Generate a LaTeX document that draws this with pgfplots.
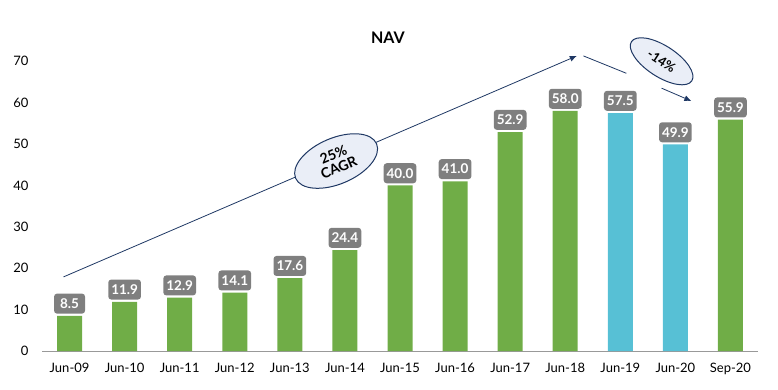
\documentclass[border=0pt]{standalone}
\usepackage{fontspec}
\setmainfont{Lato}
\usepackage{pgfplots}
\pgfplotsset{compat=1.18}
\usetikzlibrary{shapes.geometric,arrows.meta}
\definecolor{barG}{HTML}{70AD47}
\definecolor{barB}{HTML}{57C0D5}
\definecolor{lblG}{HTML}{7F7F7F}
\definecolor{navy}{HTML}{1F3864}
\definecolor{lav}{HTML}{EAEEF7}
\begin{document}
\begin{tikzpicture}[x=1pt,y=1pt]
\begin{axis}[
  scale only axis,
  width=716pt, height=298pt,
  xmin=-0.5, xmax=12.5, ymin=0, ymax=72,
  clip=false,
  axis x line*=bottom, axis y line*=left,
  y axis line style={draw=none},
  x axis line style={draw=gray!80, line width=1pt, -},
  major tick length=0pt,
  ytick={0,10,...,70},
  xtick={0,...,12},
  xticklabels={Jun-09,Jun-10,Jun-11,Jun-12,Jun-13,Jun-14,Jun-15,Jun-16,Jun-17,Jun-18,Jun-19,Jun-20,Sep-20},
  tick label style={font=\fontsize{13}{15}\selectfont},
  /pgf/number format/assume math mode=true,
  yticklabel style={xshift=-10pt},
  xticklabel style={yshift=-9pt},
  ybar, bar width=25pt, bar shift=0pt,
  nodes near coords={\pgfmathprintnumber[fixed,fixed zerofill,precision=1,assume math mode=true]{\pgfplotspointmeta}},
  every node near coord/.append style={fill=lblG, text=white, rounded corners=3pt,
     font=\bfseries\fontsize{13.5}{15}\selectfont, anchor=south, yshift=2pt,
     minimum width=31pt, minimum height=20pt, inner xsep=3pt, inner ysep=0pt},
]
\addplot[fill=barG, draw=none] coordinates {(0,8.5) (1,11.9) (2,12.9) (3,14.1) (4,17.6) (5,24.4) (6,40.0) (7,41.0) (8,52.9) (9,58.0) (12,55.9)};
\addplot[fill=barB, draw=none] coordinates {(10,57.5) (11,49.9)};
\coordinate (O) at (axis cs:-0.5,0);
\node[font=\bfseries\fontsize{16}{18}\selectfont] at (axis cs:5.78,75.6) {NAV};
\draw[navy, line width=0.8pt, -{Latex[length=7pt,width=6pt]}] (axis cs:-0.11,17.9) -- (axis cs:9.21,71.3);
\draw[navy, line width=0.8pt] (axis cs:9.33,71.3) -- (axis cs:10.11,67.1);
\draw[navy, line width=0.8pt, -{Latex[length=7pt,width=6pt]}] (axis cs:10.75,63.5) -- (axis cs:11.29,60.4);
\node[ellipse, draw=navy, fill=lav, line width=1pt, rotate=23, minimum width=88pt, minimum height=46pt, inner sep=0pt,
  align=center, font=\bfseries\fontsize{14}{14}\selectfont] at (axis cs:4.84,45.9) {25\%\\CAGR};
\node[ellipse, draw=navy, fill=lav, line width=1pt, rotate=-33, minimum width=72pt, minimum height=31pt, inner sep=0pt,
  font=\bfseries\fontsize{13}{13}\selectfont] at (axis cs:10.75,70.0) {-14\%};
\end{axis}
\pgfresetboundingbox
\path ([shift={(-42pt,-38pt)}]O) rectangle ([shift={(736pt,351pt)}]O);
\end{tikzpicture}
\end{document}
